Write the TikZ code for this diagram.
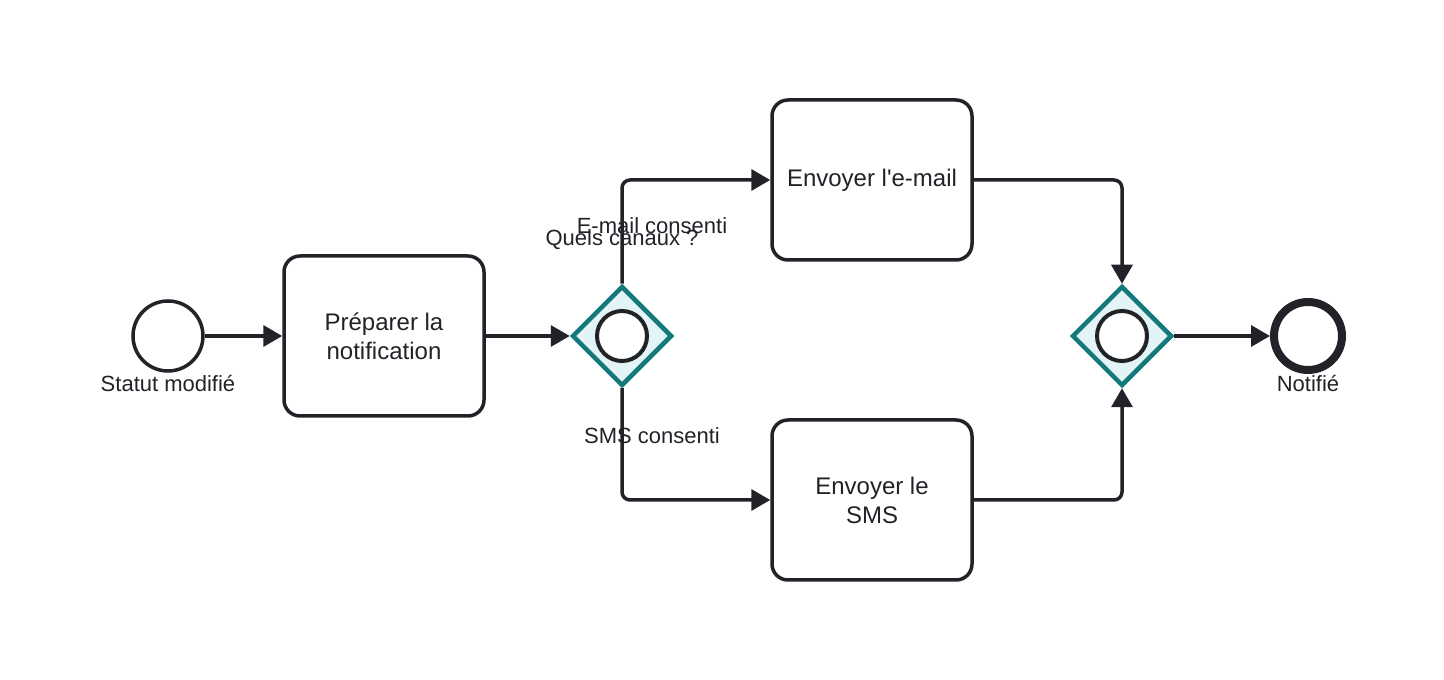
\documentclass[tikz,border=0pt]{standalone}
\usepackage{fontspec}
\setmainfont{Liberation Sans}
\usepackage{xcolor}
\usetikzlibrary{arrows.meta,calc,positioning,shapes.geometric}

\definecolor{ink}{HTML}{222328}
\definecolor{gwline}{HTML}{13797A}
\definecolor{gwfill}{HTML}{E2F4F5}

\tikzset{
  flow/.style={draw=ink, line width=3.5pt, rounded corners=8pt,
    -{Triangle[length=19pt,width=21pt]}},
  task/.style={draw=ink, line width=3.5pt, rounded corners=16pt, fill=white,
    minimum width=200pt, minimum height=160pt, align=center,
    text=ink, font=\fontsize{24}{29}\selectfont},
  evt/.style={circle, draw=ink, line width=3.5pt, minimum size=70pt, inner sep=0pt, fill=white},
  gate/.style={diamond, draw=gwline, fill=gwfill, line width=4.5pt,
    minimum size=100pt, inner sep=0pt},
  ring/.style={circle, draw=ink, fill=white, line width=4pt, minimum size=50pt, inner sep=0pt},
  lbl/.style={text=ink, font=\fontsize{22}{26}\selectfont, inner sep=0pt}
}

\begin{document}
\begin{tikzpicture}[x=1pt,y=1pt]
  \useasboundingbox (0,0) rectangle (1444,680);

  % ---------- events and tasks ----------
  \node[evt] (start) at (168,344) {};
  \node[lbl] (startlbl) at (168,296) {Statut modifié};

  \node[task] (prep) at (384,344) {Préparer la\\notification};

  % split gateway
  \node[gate] (split) at (622,344) {};
  \node[ring] (splitring) at (split) {};
  \node[lbl] (splitlbl) at (622,440) {Quels canaux ?};

  \node[task] (email) at (872,500) {Envoyer l\textquotesingle e-mail};
  \node[task] (sms) at (872,180) {Envoyer le\\SMS};

  % join gateway
  \node[gate] (join) at (1122,344) {};
  \node[ring] (joinring) at (join) {};

  \node[evt, line width=8pt, minimum size=68pt] (done) at (1308,344) {};
  \node[lbl] (donelbl) at (1308,296) {Notifié};

  % ---------- sequence flows ----------
  \draw[flow] (start) -- (prep);
  \draw[flow] (prep) -- (split);
  \draw[flow] (split.north) |- (email.west);
  \draw[flow] (split.south) |- (sms.west);
  \draw[flow] (email.east) -| (join.north);
  \draw[flow] (sms.east) -| (join.south);
  \draw[flow] (join) -- (done);

  % flow labels
  \node[lbl] (emaillbl) at (652,454) {E-mail consenti};
  \node[lbl] (smslbl) at (652,244) {SMS consenti};
\end{tikzpicture}
\end{document}
